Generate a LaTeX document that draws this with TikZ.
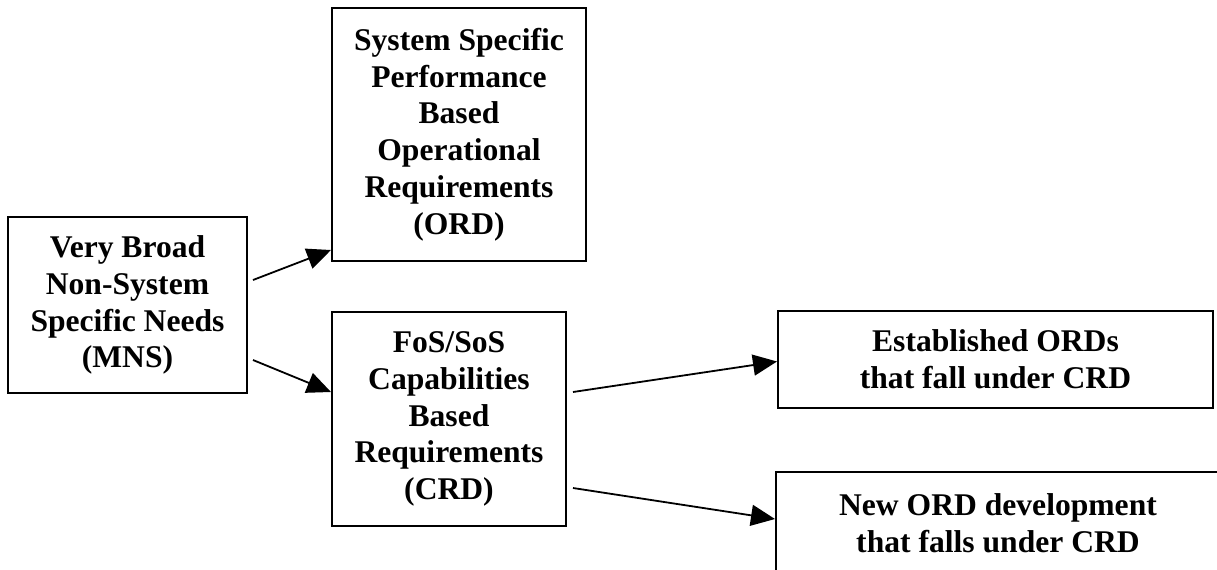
\documentclass[tikz,border=0pt]{standalone}
\usepackage{fontspec}
\setmainfont{Liberation Serif}
\usetikzlibrary{arrows.meta}
\tikzstyle{block} = [draw,line width=1pt,text centered,align=center,inner sep=0pt,font=\bfseries\fontsize{15.8}{18.4}\selectfont]
\tikzstyle{link} = [line width=0.9pt,-{Triangle[length=12pt,width=10.5pt]}]

\begin{document}
\begin{tikzpicture}[x=0.5pt,y=-0.5pt]
		\useasboundingbox (0,0) rectangle (1217,569);
		\node [block,minimum width=119.5pt,minimum height=88pt](mns) at (127.5,305){Very Broad\\Non-System\\Specific Needs\\(MNS)};
		\node [block,minimum width=127pt,minimum height=126.5pt](ord) at (459,134.5){System Specific\\Performance\\Based\\Operational\\Requirements\\(ORD)};
		\node [block,minimum width=117pt,minimum height=107pt](crd) at (449,419){FoS/SoS\\Capabilities\\Based\\Requirements\\(CRD)};
		\node [block,minimum width=217.5pt,minimum height=48.5pt](est) at (995.5,359.5){Established ORDs\\that fall under CRD};
		\node [block,minimum width=222pt,minimum height=51pt](new) at (998,523){New ORD development\\that falls under CRD};

		\draw[link]([xshift=2.5pt,yshift=12.5pt]mns.east)--([yshift=6pt]ord.south west);
		\draw[link]([xshift=2.5pt,yshift=-27.5pt]mns.east)--([yshift=13.5pt]crd.west);
		\draw[link]([xshift=3pt,yshift=13.5pt]crd.east)--([yshift=-1pt]est.west);
		\draw[link]([xshift=3pt,yshift=-34.5pt]crd.east)--([yshift=2pt]new.west);
		\end{tikzpicture}
\end{document}
